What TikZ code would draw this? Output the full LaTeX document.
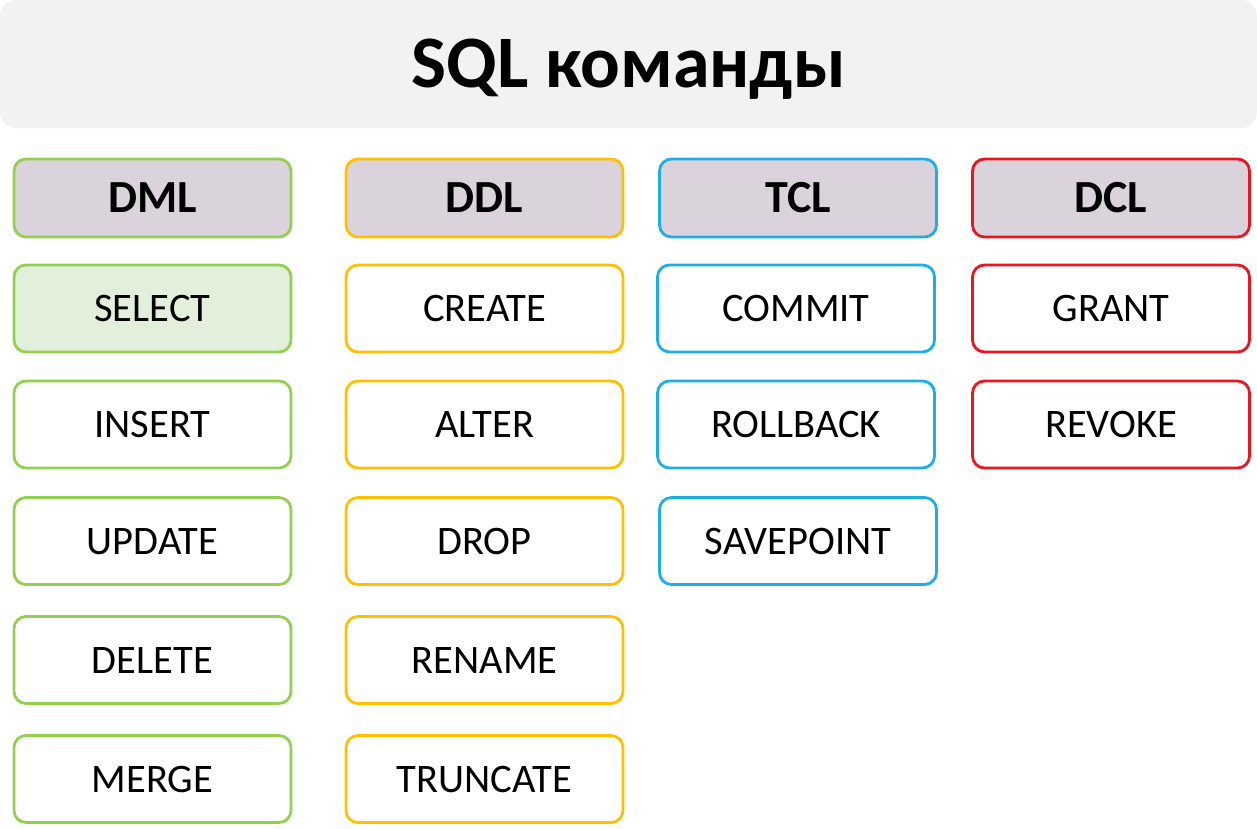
\documentclass[tikz,border=0pt]{standalone}
\usepackage{fontspec}
\setmainfont{Carlito}
\definecolor{titlefill}{HTML}{F2F2F2}
\definecolor{headfill}{HTML}{DBD3DC}
\definecolor{dmlgreen}{HTML}{92D050}
\definecolor{selfill}{HTML}{E2EFDA}
\definecolor{ddlorange}{HTML}{FFC000}
\definecolor{tclblue}{HTML}{1EAEE6}
\definecolor{dclred}{HTML}{E81620}

\begin{document}
\begin{tikzpicture}[x=1pt,y=-1pt]
\tikzset{
  titlebar/.style={rounded corners=16pt,fill=titlefill,minimum width=1257pt,minimum height=128pt,inner sep=0pt,
    text height=47.5pt,text depth=0pt,font=\fontsize{74}{80}\selectfont\bfseries},
  groupbox/.style={rounded corners=12pt,line width=2.8pt,draw=#1,fill=headfill,minimum width=277pt,minimum height=78pt,
    inner sep=0pt,text height=29.5pt,text depth=0pt,font=\fontsize{46}{52}\selectfont\bfseries},
  cmdbox/.style={rounded corners=12pt,line width=2.8pt,draw=#1,fill=white,minimum width=277pt,minimum height=87pt,
    inner sep=0pt,text height=26pt,text depth=0pt,font=\fontsize{40.5}{46}\selectfont}
}
\useasboundingbox (0,0) rectangle (1257,828);
% title
\node[titlebar] (title) at (628.5,64) {SQL команды};
% DML
\node[groupbox=dmlgreen] (dml) at (152.5,198) {DML};
\node[cmdbox=dmlgreen,fill=selfill] (select) at (152.5,308.5) {SELECT};
\node[cmdbox=dmlgreen] (insert) at (152.5,424.5) {INSERT};
\node[cmdbox=dmlgreen] (update) at (152.5,541) {UPDATE};
\node[cmdbox=dmlgreen] (delete) at (152.5,660) {DELETE};
\node[cmdbox=dmlgreen] (merge) at (152.5,779) {MERGE};
% DDL
\node[groupbox=ddlorange] (ddl) at (484.5,198) {DDL};
\node[cmdbox=ddlorange] (create) at (484.5,308.5) {CREATE};
\node[cmdbox=ddlorange] (alter) at (484.5,424.5) {ALTER};
\node[cmdbox=ddlorange] (drop) at (484.5,541) {DROP};
\node[cmdbox=ddlorange] (rename) at (484.5,660) {RENAME};
\node[cmdbox=ddlorange] (truncate) at (484.5,779) {TRUNCATE};
% TCL
\node[groupbox=tclblue] (tcl) at (798,198) {TCL};
\node[cmdbox=tclblue] (commit) at (796,308.5) {COMMIT};
\node[cmdbox=tclblue] (rollback) at (796,424.5) {ROLLBACK};
\node[cmdbox=tclblue] (savepoint) at (798,541) {SAVEPOINT};
% DCL
\node[groupbox=dclred] (dcl) at (1111,198) {DCL};
\node[cmdbox=dclred] (grant) at (1111,308.5) {GRANT};
\node[cmdbox=dclred] (revoke) at (1111,424.5) {REVOKE};
\end{tikzpicture}
\end{document}
